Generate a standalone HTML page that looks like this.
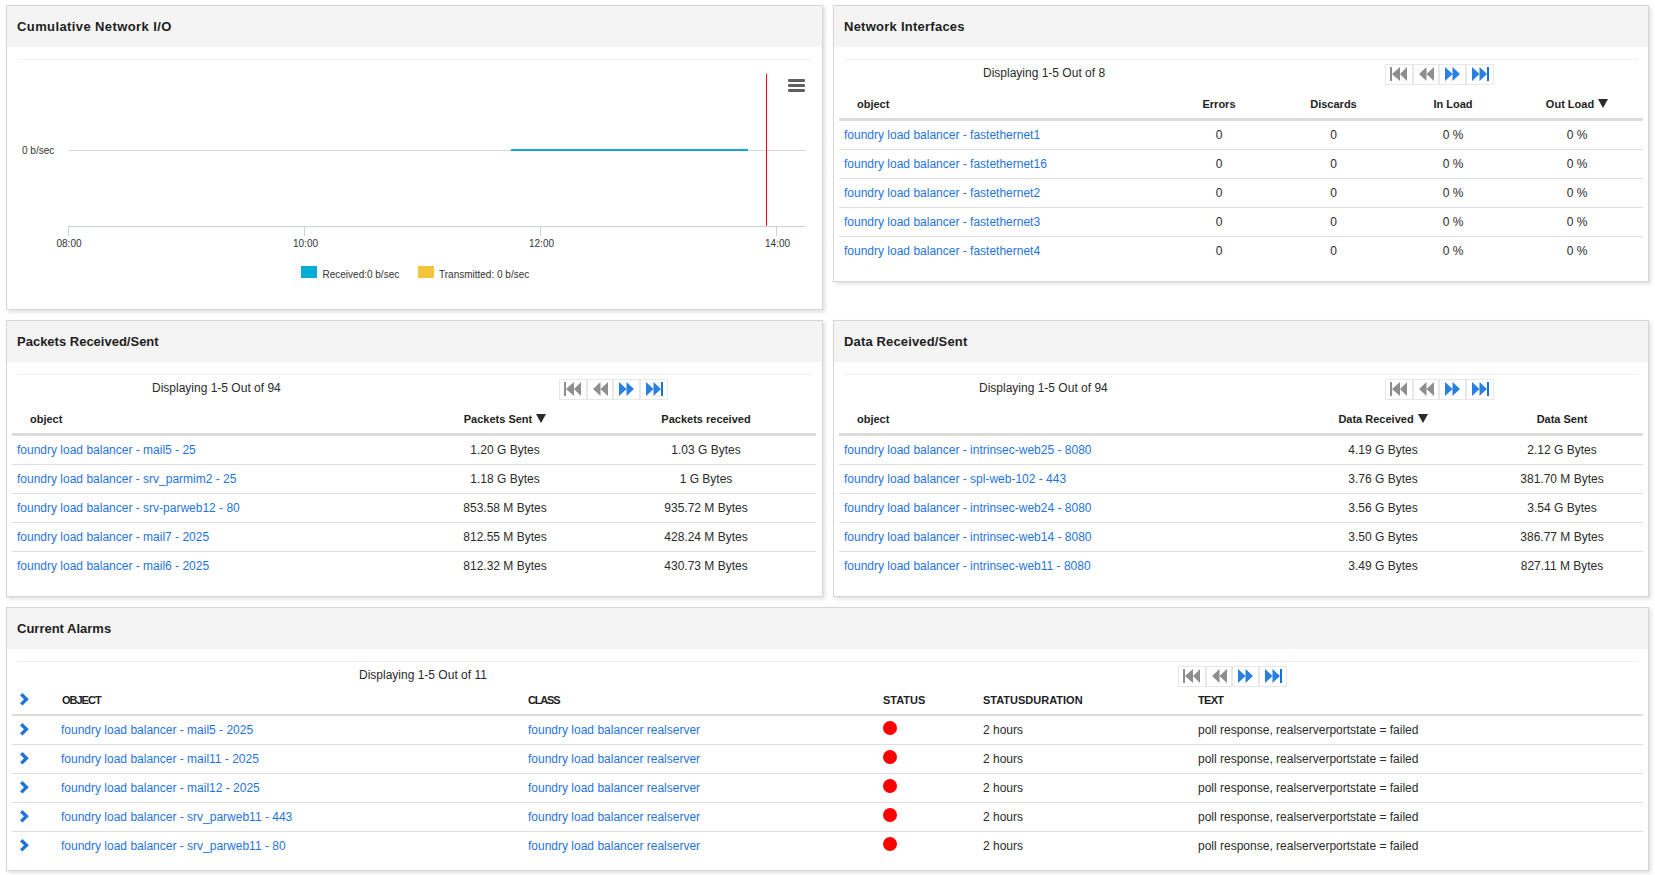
<!DOCTYPE html><html><head><meta charset="utf-8"><style>
*{margin:0;padding:0;box-sizing:border-box}
html,body{width:1655px;height:875px;background:#fff;overflow:hidden;font-family:"Liberation Sans", sans-serif;}
body{position:relative}
.panel{position:absolute;border:1px solid #d6d6d6;background:#fff;box-shadow:2px 2px 4px rgba(0,0,0,0.13);box-sizing:content-box}
.ph{height:41px;background:#f4f4f4;padding-left:10px;font-size:13px;font-weight:700;color:#1e1e1e;line-height:41px}
.topline{position:absolute;height:1px;background:#f0f0f0}
.t{position:absolute;white-space:pre}
.pb{position:absolute;width:27px;height:21px;border:1px solid #e8e8e8;background:#fff}
.pb svg{display:block}
.tbl{position:absolute}
.tr{display:flex;border-bottom:1px solid #dedede;font-size:12px;color:#2a2a2a;white-space:pre}
.tr.hd{font-size:11px;font-weight:700;color:#1e1e1e}
.td{flex:none;overflow:visible;white-space:pre;position:relative}
.a{color:#1f74dc}
.tri{display:inline-block;width:0;height:0;border-left:5px solid transparent;border-right:5px solid transparent;border-top:9px solid #2a2a2a;vertical-align:0px;margin-left:4px}
.dot{display:inline-block;width:14px;height:14px;border-radius:50%;background:#ff0000;vertical-align:top;margin-top:5px}
</style></head><body><div class="panel" style="left:6px;top:5px;width:815px;height:303px"><div class="ph" style="letter-spacing:0.4px">Cumulative Network I/O</div></div><div class="topline" style="left:17px;top:59px;width:795px"></div><div class="panel" style="left:833px;top:5px;width:814px;height:275px"><div class="ph" style="letter-spacing:0.25px">Network Interfaces</div></div><div class="topline" style="left:844px;top:59px;width:794px"></div><div class="panel" style="left:6px;top:320px;width:815px;height:275px"><div class="ph" style="letter-spacing:0px">Packets Received/Sent</div></div><div class="topline" style="left:17px;top:374px;width:795px"></div><div class="panel" style="left:833px;top:320px;width:814px;height:275px"><div class="ph" style="letter-spacing:0.15px">Data Received/Sent</div></div><div class="topline" style="left:844px;top:374px;width:794px"></div><div class="panel" style="left:6px;top:607px;width:1641px;height:262px"><div class="ph" style="letter-spacing:0px">Current Alarms</div></div><div class="topline" style="left:17px;top:661px;width:1621px"></div><svg style="position:absolute;left:0;top:0" width="823" height="310" viewBox="0 0 823 310"><line x1="69" y1="150.5" x2="806" y2="150.5" stroke="#d8d8d8" stroke-width="1"/><line x1="68" y1="226.5" x2="806" y2="226.5" stroke="#c5d3e3" stroke-width="1"/><line x1="68.5" y1="226" x2="68.5" y2="236" stroke="#c5d3e3" stroke-width="1"/><line x1="304.5" y1="226" x2="304.5" y2="236" stroke="#c5d3e3" stroke-width="1"/><line x1="540.5" y1="226" x2="540.5" y2="236" stroke="#c5d3e3" stroke-width="1"/><line x1="776.5" y1="226" x2="776.5" y2="236" stroke="#c5d3e3" stroke-width="1"/><line x1="511" y1="150" x2="748" y2="150" stroke="#12a6d6" stroke-width="2"/><line x1="766.5" y1="74" x2="766.5" y2="226" stroke="#ff0000" stroke-width="1"/><rect x="788" y="79" width="17" height="3" rx="1.2" fill="#606060"/><rect x="788" y="84" width="17" height="3" rx="1.2" fill="#606060"/><rect x="788" y="89" width="17" height="3" rx="1.2" fill="#606060"/><g font-family='"Liberation Sans", sans-serif' font-size="10" fill="#333"><text x="22" y="154">0 b/sec</text><text x="69" y="247" text-anchor="middle">08:00</text><text x="305.5" y="247" text-anchor="middle">10:00</text><text x="541.5" y="247" text-anchor="middle">12:00</text><text x="777.5" y="247" text-anchor="middle">14:00</text><text x="322.5" y="278">Received:0 b/sec</text><text x="439" y="278">Transmitted: 0 b/sec</text></g><rect x="301" y="266" width="16" height="12" fill="#00acd6"/><rect x="418" y="266" width="16" height="12" fill="#f2c53d"/></svg><div class="t" style="left:983px;top:62.84px;font-size:12px;font-weight:400;color:#2a2a2a;line-height:20px;">Displaying 1-5 Out of 8</div><div class="pb" style="left:1385px;top:64px;width:28px"><svg width="26" height="19" viewBox="0 0 26 19"><rect x="4" y="2" width="2" height="14" fill="#8e8e8e"/><path d="M6 9L14 2V16Z M14 9L21 2V16Z" fill="#8e8e8e"/></svg></div><div class="pb" style="left:1413px;top:64px;width:26px"><svg width="24" height="19" viewBox="0 0 24 19"><path d="M5 9L12.5 2V16Z M12.5 9L20 2V16Z" fill="#8e8e8e"/></svg></div><div class="pb" style="left:1439px;top:64px;width:27px"><svg width="25" height="19" viewBox="0 0 25 19"><path d="M5 2L12.5 9L5 16Z M12.5 2L20 9L12.5 16Z" fill="#2a7fe2"/></svg></div><div class="pb" style="left:1466px;top:64px;width:28px"><svg width="26" height="19" viewBox="0 0 26 19"><path d="M5 2L12.5 9L5 16Z M12.5 2L20 9L12.5 16Z" fill="#2a7fe2"/><rect x="20" y="2" width="2" height="14" fill="#1570e0"/></svg></div><div class="tbl" style="left:839px;top:90px;width:804px"><div class="tr hd" style="height:31px;line-height:28px;border-bottom:3px solid #dcdcdc"><div class="td" style="width:327px;text-align:left;padding-left:18px;">object</div><div class="td" style="width:106px;text-align:center;">Errors</div><div class="td" style="width:123px;text-align:center;">Discards</div><div class="td" style="width:116px;text-align:center;">In Load</div><div class="td" style="width:132px;text-align:center;">Out Load<span class="tri"></span></div></div><div class="tr" style="height:29px;line-height:28px;"><div class="td" style="width:327px;text-align:left;padding-left:5px;"><span class="a">foundry load balancer - fastethernet1</span></div><div class="td" style="width:106px;text-align:center;">0</div><div class="td" style="width:123px;text-align:center;">0</div><div class="td" style="width:116px;text-align:center;">0 %</div><div class="td" style="width:132px;text-align:center;">0 %</div></div><div class="tr" style="height:29px;line-height:28px;"><div class="td" style="width:327px;text-align:left;padding-left:5px;"><span class="a">foundry load balancer - fastethernet16</span></div><div class="td" style="width:106px;text-align:center;">0</div><div class="td" style="width:123px;text-align:center;">0</div><div class="td" style="width:116px;text-align:center;">0 %</div><div class="td" style="width:132px;text-align:center;">0 %</div></div><div class="tr" style="height:29px;line-height:28px;"><div class="td" style="width:327px;text-align:left;padding-left:5px;"><span class="a">foundry load balancer - fastethernet2</span></div><div class="td" style="width:106px;text-align:center;">0</div><div class="td" style="width:123px;text-align:center;">0</div><div class="td" style="width:116px;text-align:center;">0 %</div><div class="td" style="width:132px;text-align:center;">0 %</div></div><div class="tr" style="height:29px;line-height:28px;"><div class="td" style="width:327px;text-align:left;padding-left:5px;"><span class="a">foundry load balancer - fastethernet3</span></div><div class="td" style="width:106px;text-align:center;">0</div><div class="td" style="width:123px;text-align:center;">0</div><div class="td" style="width:116px;text-align:center;">0 %</div><div class="td" style="width:132px;text-align:center;">0 %</div></div><div class="tr" style="height:28px;line-height:28px;border-bottom:none;"><div class="td" style="width:327px;text-align:left;padding-left:5px;"><span class="a">foundry load balancer - fastethernet4</span></div><div class="td" style="width:106px;text-align:center;">0</div><div class="td" style="width:123px;text-align:center;">0</div><div class="td" style="width:116px;text-align:center;">0 %</div><div class="td" style="width:132px;text-align:center;">0 %</div></div></div><div class="t" style="left:152px;top:377.84px;font-size:12px;font-weight:400;color:#2a2a2a;line-height:20px;">Displaying 1-5 Out of 94</div><div class="pb" style="left:559px;top:379px;width:28px"><svg width="26" height="19" viewBox="0 0 26 19"><rect x="4" y="2" width="2" height="14" fill="#8e8e8e"/><path d="M6 9L14 2V16Z M14 9L21 2V16Z" fill="#8e8e8e"/></svg></div><div class="pb" style="left:587px;top:379px;width:26px"><svg width="24" height="19" viewBox="0 0 24 19"><path d="M5 9L12.5 2V16Z M12.5 9L20 2V16Z" fill="#8e8e8e"/></svg></div><div class="pb" style="left:613px;top:379px;width:27px"><svg width="25" height="19" viewBox="0 0 25 19"><path d="M5 2L12.5 9L5 16Z M12.5 2L20 9L12.5 16Z" fill="#2a7fe2"/></svg></div><div class="pb" style="left:640px;top:379px;width:28px"><svg width="26" height="19" viewBox="0 0 26 19"><path d="M5 2L12.5 9L5 16Z M12.5 2L20 9L12.5 16Z" fill="#2a7fe2"/><rect x="20" y="2" width="2" height="14" fill="#1570e0"/></svg></div><div class="tbl" style="left:12px;top:405px;width:804px"><div class="tr hd" style="height:31px;line-height:28px;border-bottom:3px solid #dcdcdc"><div class="td" style="width:402px;text-align:left;padding-left:18px;">object</div><div class="td" style="width:182px;text-align:center;">Packets Sent<span class="tri"></span></div><div class="td" style="width:220px;text-align:center;">Packets received</div></div><div class="tr" style="height:29px;line-height:28px;"><div class="td" style="width:402px;text-align:left;padding-left:5px;"><span class="a">foundry load balancer - mail5 - 25</span></div><div class="td" style="width:182px;text-align:center;">1.20 G Bytes</div><div class="td" style="width:220px;text-align:center;">1.03 G Bytes</div></div><div class="tr" style="height:29px;line-height:28px;"><div class="td" style="width:402px;text-align:left;padding-left:5px;"><span class="a">foundry load balancer - srv_parmim2 - 25</span></div><div class="td" style="width:182px;text-align:center;">1.18 G Bytes</div><div class="td" style="width:220px;text-align:center;">1 G Bytes</div></div><div class="tr" style="height:29px;line-height:28px;"><div class="td" style="width:402px;text-align:left;padding-left:5px;"><span class="a">foundry load balancer - srv-parweb12 - 80</span></div><div class="td" style="width:182px;text-align:center;">853.58 M Bytes</div><div class="td" style="width:220px;text-align:center;">935.72 M Bytes</div></div><div class="tr" style="height:29px;line-height:28px;"><div class="td" style="width:402px;text-align:left;padding-left:5px;"><span class="a">foundry load balancer - mail7 - 2025</span></div><div class="td" style="width:182px;text-align:center;">812.55 M Bytes</div><div class="td" style="width:220px;text-align:center;">428.24 M Bytes</div></div><div class="tr" style="height:28px;line-height:28px;border-bottom:none;"><div class="td" style="width:402px;text-align:left;padding-left:5px;"><span class="a">foundry load balancer - mail6 - 2025</span></div><div class="td" style="width:182px;text-align:center;">812.32 M Bytes</div><div class="td" style="width:220px;text-align:center;">430.73 M Bytes</div></div></div><div class="t" style="left:979px;top:377.84px;font-size:12px;font-weight:400;color:#2a2a2a;line-height:20px;">Displaying 1-5 Out of 94</div><div class="pb" style="left:1385px;top:379px;width:28px"><svg width="26" height="19" viewBox="0 0 26 19"><rect x="4" y="2" width="2" height="14" fill="#8e8e8e"/><path d="M6 9L14 2V16Z M14 9L21 2V16Z" fill="#8e8e8e"/></svg></div><div class="pb" style="left:1413px;top:379px;width:26px"><svg width="24" height="19" viewBox="0 0 24 19"><path d="M5 9L12.5 2V16Z M12.5 9L20 2V16Z" fill="#8e8e8e"/></svg></div><div class="pb" style="left:1439px;top:379px;width:27px"><svg width="25" height="19" viewBox="0 0 25 19"><path d="M5 2L12.5 9L5 16Z M12.5 2L20 9L12.5 16Z" fill="#2a7fe2"/></svg></div><div class="pb" style="left:1466px;top:379px;width:28px"><svg width="26" height="19" viewBox="0 0 26 19"><path d="M5 2L12.5 9L5 16Z M12.5 2L20 9L12.5 16Z" fill="#2a7fe2"/><rect x="20" y="2" width="2" height="14" fill="#1570e0"/></svg></div><div class="tbl" style="left:839px;top:405px;width:804px"><div class="tr hd" style="height:31px;line-height:28px;border-bottom:3px solid #dcdcdc"><div class="td" style="width:446px;text-align:left;padding-left:18px;">object</div><div class="td" style="width:196px;text-align:center;">Data Received<span class="tri"></span></div><div class="td" style="width:162px;text-align:center;">Data Sent</div></div><div class="tr" style="height:29px;line-height:28px;"><div class="td" style="width:446px;text-align:left;padding-left:5px;"><span class="a">foundry load balancer - intrinsec-web25 - 8080</span></div><div class="td" style="width:196px;text-align:center;">4.19 G Bytes</div><div class="td" style="width:162px;text-align:center;">2.12 G Bytes</div></div><div class="tr" style="height:29px;line-height:28px;"><div class="td" style="width:446px;text-align:left;padding-left:5px;"><span class="a">foundry load balancer - spl-web-102 - 443</span></div><div class="td" style="width:196px;text-align:center;">3.76 G Bytes</div><div class="td" style="width:162px;text-align:center;">381.70 M Bytes</div></div><div class="tr" style="height:29px;line-height:28px;"><div class="td" style="width:446px;text-align:left;padding-left:5px;"><span class="a">foundry load balancer - intrinsec-web24 - 8080</span></div><div class="td" style="width:196px;text-align:center;">3.56 G Bytes</div><div class="td" style="width:162px;text-align:center;">3.54 G Bytes</div></div><div class="tr" style="height:29px;line-height:28px;"><div class="td" style="width:446px;text-align:left;padding-left:5px;"><span class="a">foundry load balancer - intrinsec-web14 - 8080</span></div><div class="td" style="width:196px;text-align:center;">3.50 G Bytes</div><div class="td" style="width:162px;text-align:center;">386.77 M Bytes</div></div><div class="tr" style="height:28px;line-height:28px;border-bottom:none;"><div class="td" style="width:446px;text-align:left;padding-left:5px;"><span class="a">foundry load balancer - intrinsec-web11 - 8080</span></div><div class="td" style="width:196px;text-align:center;">3.49 G Bytes</div><div class="td" style="width:162px;text-align:center;">827.11 M Bytes</div></div></div><div class="t" style="left:359px;top:664.84px;font-size:12px;font-weight:400;color:#2a2a2a;line-height:20px;">Displaying 1-5 Out of 11</div><div class="pb" style="left:1178px;top:666px;width:28px"><svg width="26" height="19" viewBox="0 0 26 19"><rect x="4" y="2" width="2" height="14" fill="#8e8e8e"/><path d="M6 9L14 2V16Z M14 9L21 2V16Z" fill="#8e8e8e"/></svg></div><div class="pb" style="left:1206px;top:666px;width:26px"><svg width="24" height="19" viewBox="0 0 24 19"><path d="M5 9L12.5 2V16Z M12.5 9L20 2V16Z" fill="#8e8e8e"/></svg></div><div class="pb" style="left:1232px;top:666px;width:27px"><svg width="25" height="19" viewBox="0 0 25 19"><path d="M5 2L12.5 9L5 16Z M12.5 2L20 9L12.5 16Z" fill="#2a7fe2"/></svg></div><div class="pb" style="left:1259px;top:666px;width:28px"><svg width="26" height="19" viewBox="0 0 26 19"><path d="M5 2L12.5 9L5 16Z M12.5 2L20 9L12.5 16Z" fill="#2a7fe2"/><rect x="20" y="2" width="2" height="14" fill="#1570e0"/></svg></div><div class="tbl" style="left:12px;top:686px;width:1631px"><div class="tr hd" style="height:30px;line-height:28px;border-bottom:2px solid #dcdcdc"><div class="td" style="width:44px;text-align:left;padding-left:8px;"><svg width="16" height="16" viewBox="0 0 16 16" style="position:absolute;left:5px;top:5px"><path d="M4.25 3.2L9.4 8.3L4.25 13.4" fill="none" stroke="#1f74dc" stroke-width="3.4" stroke-miterlimit="4"/></svg></div><div class="td" style="width:467px;text-align:left;padding-left:6px;"><span style="letter-spacing:-1px">OBJECT</span></div><div class="td" style="width:355px;text-align:left;padding-left:5px;"><span style="letter-spacing:-1.2px">CLASS</span></div><div class="td" style="width:100px;text-align:left;padding-left:5px;">STATUS</div><div class="td" style="width:215px;text-align:left;padding-left:5px;">STATUSDURATION</div><div class="td" style="width:450px;text-align:left;padding-left:5px;"><span style="letter-spacing:-0.7px">TEXT</span></div></div><div class="tr" style="height:29px;line-height:28px;"><div class="td" style="width:44px;text-align:left;padding-left:8px;"><svg width="16" height="16" viewBox="0 0 16 16" style="position:absolute;left:5px;top:5px"><path d="M4.25 3.2L9.4 8.3L4.25 13.4" fill="none" stroke="#1f74dc" stroke-width="3.4" stroke-miterlimit="4"/></svg></div><div class="td" style="width:467px;text-align:left;padding-left:5px;"><span class="a">foundry load balancer - mail5 - 2025</span></div><div class="td" style="width:355px;text-align:left;padding-left:5px;"><span class="a">foundry load balancer realserver</span></div><div class="td" style="width:100px;text-align:left;padding-left:5px;"><span class="dot"></span></div><div class="td" style="width:215px;text-align:left;padding-left:5px;">2 hours</div><div class="td" style="width:450px;text-align:left;padding-left:5px;">poll response, realserverportstate = failed</div></div><div class="tr" style="height:29px;line-height:28px;"><div class="td" style="width:44px;text-align:left;padding-left:8px;"><svg width="16" height="16" viewBox="0 0 16 16" style="position:absolute;left:5px;top:5px"><path d="M4.25 3.2L9.4 8.3L4.25 13.4" fill="none" stroke="#1f74dc" stroke-width="3.4" stroke-miterlimit="4"/></svg></div><div class="td" style="width:467px;text-align:left;padding-left:5px;"><span class="a">foundry load balancer - mail11 - 2025</span></div><div class="td" style="width:355px;text-align:left;padding-left:5px;"><span class="a">foundry load balancer realserver</span></div><div class="td" style="width:100px;text-align:left;padding-left:5px;"><span class="dot"></span></div><div class="td" style="width:215px;text-align:left;padding-left:5px;">2 hours</div><div class="td" style="width:450px;text-align:left;padding-left:5px;">poll response, realserverportstate = failed</div></div><div class="tr" style="height:29px;line-height:28px;"><div class="td" style="width:44px;text-align:left;padding-left:8px;"><svg width="16" height="16" viewBox="0 0 16 16" style="position:absolute;left:5px;top:5px"><path d="M4.25 3.2L9.4 8.3L4.25 13.4" fill="none" stroke="#1f74dc" stroke-width="3.4" stroke-miterlimit="4"/></svg></div><div class="td" style="width:467px;text-align:left;padding-left:5px;"><span class="a">foundry load balancer - mail12 - 2025</span></div><div class="td" style="width:355px;text-align:left;padding-left:5px;"><span class="a">foundry load balancer realserver</span></div><div class="td" style="width:100px;text-align:left;padding-left:5px;"><span class="dot"></span></div><div class="td" style="width:215px;text-align:left;padding-left:5px;">2 hours</div><div class="td" style="width:450px;text-align:left;padding-left:5px;">poll response, realserverportstate = failed</div></div><div class="tr" style="height:29px;line-height:28px;"><div class="td" style="width:44px;text-align:left;padding-left:8px;"><svg width="16" height="16" viewBox="0 0 16 16" style="position:absolute;left:5px;top:5px"><path d="M4.25 3.2L9.4 8.3L4.25 13.4" fill="none" stroke="#1f74dc" stroke-width="3.4" stroke-miterlimit="4"/></svg></div><div class="td" style="width:467px;text-align:left;padding-left:5px;"><span class="a">foundry load balancer - srv_parweb11 - 443</span></div><div class="td" style="width:355px;text-align:left;padding-left:5px;"><span class="a">foundry load balancer realserver</span></div><div class="td" style="width:100px;text-align:left;padding-left:5px;"><span class="dot"></span></div><div class="td" style="width:215px;text-align:left;padding-left:5px;">2 hours</div><div class="td" style="width:450px;text-align:left;padding-left:5px;">poll response, realserverportstate = failed</div></div><div class="tr" style="height:28px;line-height:28px;border-bottom:none;"><div class="td" style="width:44px;text-align:left;padding-left:8px;"><svg width="16" height="16" viewBox="0 0 16 16" style="position:absolute;left:5px;top:5px"><path d="M4.25 3.2L9.4 8.3L4.25 13.4" fill="none" stroke="#1f74dc" stroke-width="3.4" stroke-miterlimit="4"/></svg></div><div class="td" style="width:467px;text-align:left;padding-left:5px;"><span class="a">foundry load balancer - srv_parweb11 - 80</span></div><div class="td" style="width:355px;text-align:left;padding-left:5px;"><span class="a">foundry load balancer realserver</span></div><div class="td" style="width:100px;text-align:left;padding-left:5px;"><span class="dot"></span></div><div class="td" style="width:215px;text-align:left;padding-left:5px;">2 hours</div><div class="td" style="width:450px;text-align:left;padding-left:5px;">poll response, realserverportstate = failed</div></div></div></body></html>
